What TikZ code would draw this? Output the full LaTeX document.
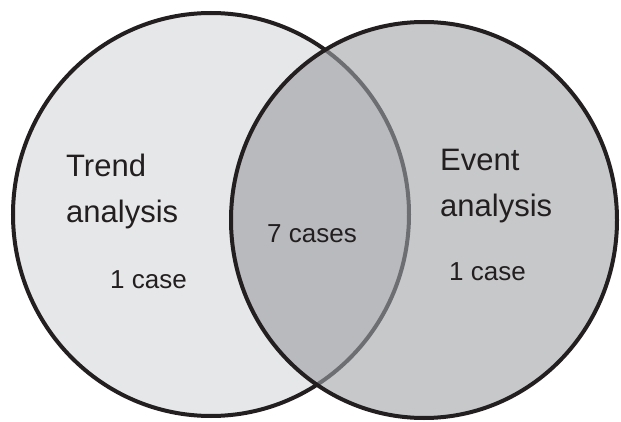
\documentclass[tikz,border=0pt]{standalone}
\usepackage{fontspec}
\setmainfont{Liberation Sans}
\definecolor{ink}{HTML}{231F20}
\definecolor{trendfill}{HTML}{E6E7E8}
\definecolor{eventfill}{HTML}{C7C8CA}
\definecolor{bothfill}{HTML}{B9BABD}
\definecolor{arcgray}{HTML}{6D6E71}
\newcommand*{\trendshape}{(211,214.5) ellipse [x radius=198, y radius=201.5]}
\newcommand*{\eventshape}{(424,220) ellipse [x radius=193, y radius=198]}
\begin{document}
\begin{tikzpicture}[x=1pt,y=-1pt,
  outline/.style={draw=ink,line width=4pt},
  bigtext/.style={inner sep=0pt,text=ink,align=left,font=\fontsize{31}{46}\selectfont},
  smalltext/.style={inner sep=0pt,text=ink,font=\fontsize{26}{30}\selectfont}]
  \useasboundingbox (0,0) rectangle (621,422);
  % the two sets
  \fill[trendfill] \trendshape;
  \draw[outline] \trendshape;
  \fill[eventfill] \eventshape;
  \begin{scope}
    \clip \eventshape;
    \fill[bothfill] \trendshape;
    \draw[line width=4pt,draw=arcgray] \trendshape;
  \end{scope}
  \draw[outline] \eventshape;
  % labels (base = last line)
  \node[bigtext,anchor=base west] (trend) at (66,222.7) {Trend\\analysis};
  \node[bigtext,anchor=base west] (event) at (440,216.7) {Event\\analysis};
  \node[smalltext,anchor=base west] (trendonly) at (110,288.3) {1 case};
  \node[smalltext,anchor=base west] (both) at (267,242.3) {7 cases};
  \node[smalltext,anchor=base west] (eventonly) at (449,280) {1 case};
\end{tikzpicture}
\end{document}
